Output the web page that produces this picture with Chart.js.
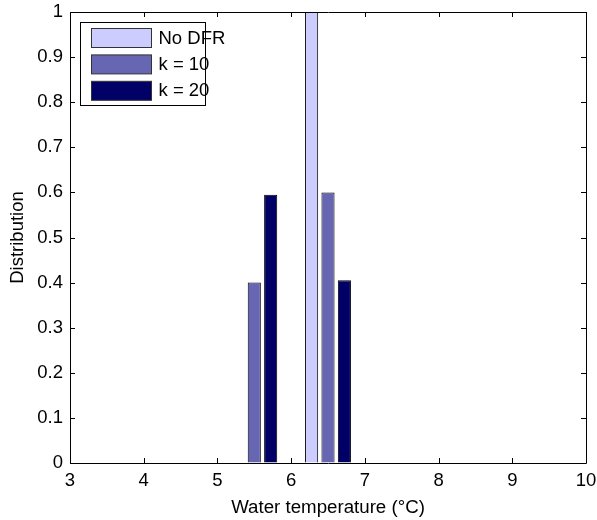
<!DOCTYPE html>
<html>
<head>
<meta charset="utf-8">
<script src="https://cdn.jsdelivr.net/npm/chart.js@4"></script>
<style>
  html, body { margin: 0; padding: 0; background: #fff; }
  #wrap { width: 597px; height: 520px; }
</style>
</head>
<body>
<div id="wrap"><canvas id="distChart" width="597" height="520"></canvas></div>
<script>
// bin centres (water temperature, °C)
const binCenters = [3.5, 4.5, 5.5, 6.5, 7.5, 8.5, 9.5];
// distributions
const noDfr = [0, 0, 0, 1.0, 0, 0, 0];
const k10 = [0, 0, 0.40, 0.60, 0, 0, 0];
const k20 = [0, 0, 0.595, 0.405, 0, 0, 0];
// tick labels
const xTicks = [3, 4, 5, 6, 7, 8, 9, 10];
const yTicks = [0, 0.1, 0.2, 0.3, 0.4, 0.5, 0.6, 0.7, 0.8, 0.9, 1];

const FONT = 'Liberation Sans, Arial, Helvetica, sans-serif';
Chart.defaults.font.family = FONT;
Chart.defaults.color = '#000';

const toPoints = vals => binCenters.map((x, i) => ({ x: x, y: vals[i] }));

// frame + inward ticks like matlab
const framePlugin = {
    id: 'frame',
    afterDatasetsDraw(chart) {
        const { ctx, chartArea: a, scales } = chart;
        const L = 5;
        ctx.save();
        ctx.strokeStyle = '#000';
        ctx.lineWidth = 1;
        ctx.beginPath();
        ctx.rect(Math.round(a.left) + 0.5, Math.round(a.top) + 0.5,
                 Math.round(a.right - a.left), Math.round(a.bottom - a.top));
        xTicks.forEach(v => {
            const px = Math.round(scales.x.getPixelForValue(v)) + 0.5;
            ctx.moveTo(px, a.bottom); ctx.lineTo(px, a.bottom - L);
            ctx.moveTo(px, a.top); ctx.lineTo(px, a.top + L);
        });
        yTicks.forEach(v => {
            const py = Math.round(scales.y.getPixelForValue(v)) + 0.5;
            ctx.moveTo(a.left, py); ctx.lineTo(a.left + L, py);
            ctx.moveTo(a.right, py); ctx.lineTo(a.right - L, py);
        });
        ctx.stroke();
        ctx.restore();
    }
};

// legend box inside the top-left corner
const legendPlugin = {
    id: 'boxLegend',
    afterDraw(chart) {
        const { ctx, chartArea: a } = chart;
        const x0 = Math.round(a.left) + 10.5, y0 = Math.round(a.top) + 10.5;
        const w = 125, h = 83;
        ctx.save();
        ctx.fillStyle = '#fff';
        ctx.strokeStyle = '#000';
        ctx.lineWidth = 1;
        ctx.fillRect(x0, y0, w, h);
        ctx.strokeRect(x0, y0, w, h);
        ctx.font = '18.5px ' + FONT;
        ctx.textBaseline = 'middle';
        chart.data.datasets.forEach((ds, i) => {
            const sy = y0 + 6 + i * 26.4;
            ctx.fillStyle = ds.backgroundColor;
            ctx.fillRect(x0 + 11, sy, 60, 19);
            ctx.strokeStyle = '#333';
            ctx.strokeRect(x0 + 11, sy, 60, 19);
            ctx.fillStyle = '#000';
            ctx.fillText(ds.label, x0 + 78, sy + 10);
        });
        ctx.restore();
    }
};

new Chart(document.getElementById('distChart'), {
    type: 'bar',
    data: {
        datasets: [
            { label: 'No DFR', data: toPoints(noDfr), backgroundColor: '#ccccff', borderColor: '#000', borderWidth: 1 },
            { label: 'k = 10', data: toPoints(k10), backgroundColor: '#6666b3', borderColor: '#000', borderWidth: 1 },
            { label: 'k = 20', data: toPoints(k20), backgroundColor: '#000066', borderColor: '#000', borderWidth: 1 }
        ]
    },
    options: {
        responsive: false,
        animation: false,
        categoryPercentage: 0.667,
        barPercentage: 0.8,
        layout: { padding: { left: 0, right: 11, top: 12, bottom: 0 } },
        plugins: {
            legend: { display: false },
            tooltip: { enabled: false }
        },
        scales: {
            x: {
                type: 'linear',
                min: 3,
                max: 10,
                offset: false,
                afterBuildTicks: s => { s.ticks = xTicks.map(v => ({ value: v })); },
                afterFit: s => { s.height = 57; s.paddingLeft = 0; s.paddingRight = 0; },
                grid: { drawOnChartArea: false, drawTicks: false },
                border: { display: false },
                ticks: { font: { size: 18.5 }, padding: 7, maxRotation: 0, callback: v => String(v) },
                title: { display: true, text: 'Water temperature (°C)', font: { size: 18.7 }, padding: { top: 2, bottom: 1 } }
            },
            y: {
                min: 0,
                max: 1,
                afterBuildTicks: s => { s.ticks = yTicks.map(v => ({ value: v })); },
                afterFit: s => { s.width = 70; s.paddingTop = 0; s.paddingBottom = 0; },
                grid: { drawOnChartArea: false, drawTicks: false },
                border: { display: false },
                ticks: { font: { size: 18.5 }, padding: 7, callback: v => String(v) },
                title: { display: true, text: 'Distribution', font: { size: 18.5 }, padding: { top: 7, bottom: 4 } }
            }
        }
    },
    plugins: [framePlugin, legendPlugin]
});
</script>
</body>
</html>
